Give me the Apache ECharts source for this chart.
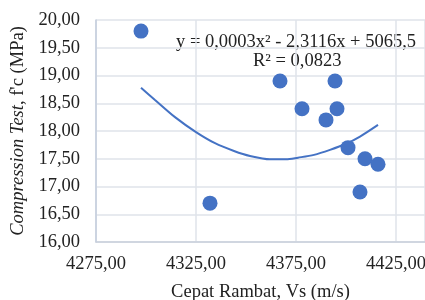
<!DOCTYPE html>
<html>
<head>
<meta charset="utf-8">
<script src="https://cdn.jsdelivr.net/npm/echarts@6/dist/echarts.min.js"></script>
<style>
  html, body { margin: 0; padding: 0; background: #fff; }
  #chart { width: 425px; height: 300px; }
</style>
</head>
<body>
<div id="chart"></div>
<script>
// data
const vsValues = [4297.5, 4332, 4367, 4378, 4390, 4394.5, 4395.5, 4401, 4407, 4409.5, 4416];
const fcValues = [19.80, 16.70, 18.90, 18.40, 18.20, 18.90, 18.40, 17.70, 16.90, 17.50, 17.40];

// trendline
const trendX = [4297.5, 4304.5, 4314.5, 4325, 4334.5, 4344, 4352, 4362, 4370, 4376, 4384, 4392, 4400, 4407, 4416];
const trendY = [18.78, 18.56, 18.25, 17.98, 17.78, 17.64, 17.55, 17.49, 17.49, 17.52, 17.57, 17.66, 17.77, 17.90, 18.11];

// the original plot is cut off at the right edge of the picture
const xTicks = { min: 4275, max: 4439.5, interval: 50 };
const yTicks = { min: 16, max: 20, interval: 0.5 };

const fmt = (v) => v.toFixed(2).replace('.', ',');
const font = 'Liberation Serif';
const fs = 18.5;
const blue = '#4472C4';

const chart = echarts.init(document.getElementById('chart'));

const option = {
  backgroundColor: '#fff',
  animation: false,
  grid: { left: 96, right: 0, top: 20, bottom: 58, containLabel: false, outerBoundsMode: 'none' },
  xAxis: {
    type: 'value',
    min: xTicks.min,
    max: xTicks.max,
    interval: xTicks.interval,
    name: 'Cepat Rambat, Vs (m/s)',
    nameLocation: 'middle',
    nameGap: 41,
    nameTextStyle: { fontFamily: font, fontSize: fs, color: '#222' },
    axisLine: { show: true, lineStyle: { color: '#c9d0dc', width: 1.5 } },
    axisTick: { show: false },
    axisLabel: {
      fontFamily: font, fontSize: fs, color: '#222', margin: 13,
      formatter: (v) => (v > 4425 ? '' : fmt(v))
    },
    splitLine: { show: true, lineStyle: { color: '#dfe3ea', width: 1.5 } }
  },
  yAxis: {
    type: 'value',
    min: yTicks.min,
    max: yTicks.max,
    interval: yTicks.interval,
    name: "{i|Compression Test}, f'c (MPa)",
    nameLocation: 'middle',
    nameGap: 66,
    nameTextStyle: {
      fontFamily: font, fontSize: fs, color: '#222',
      rich: { i: { fontFamily: font, fontSize: fs, fontStyle: 'italic', color: '#222' } }
    },
    axisLine: { show: true, lineStyle: { color: '#c3cddd', width: 1.5 } },
    axisTick: { show: false },
    axisLabel: { fontFamily: font, fontSize: fs, color: '#222', margin: 16, formatter: fmt },
    splitLine: { show: true, lineStyle: { color: '#dfe3ea', width: 1.5 } }
  },
  graphic: [
    {
      type: 'text', left: 176, top: 33,
      style: { text: 'y = 0,0003x² - 2,3116x + 5065,5', font: fs + 'px "Liberation Serif"', fill: '#222' }
    },
    {
      type: 'text', left: 253, top: 52,
      style: { text: 'R² = 0,0823', font: fs + 'px "Liberation Serif"', fill: '#222' }
    }
  ],
  series: [
    {
      type: 'line',
      data: trendX.map((x, i) => [x, trendY[i]]),
      smooth: 0.3,
      showSymbol: false,
      lineStyle: { color: blue, width: 2 },
      z: 2
    },
    {
      type: 'scatter',
      data: vsValues.map((x, i) => [x, fcValues[i]]),
      symbolSize: 15,
      itemStyle: { color: blue, opacity: 1 },
      z: 3
    }
  ]
};

chart.setOption(option);
</script>
</body>
</html>
